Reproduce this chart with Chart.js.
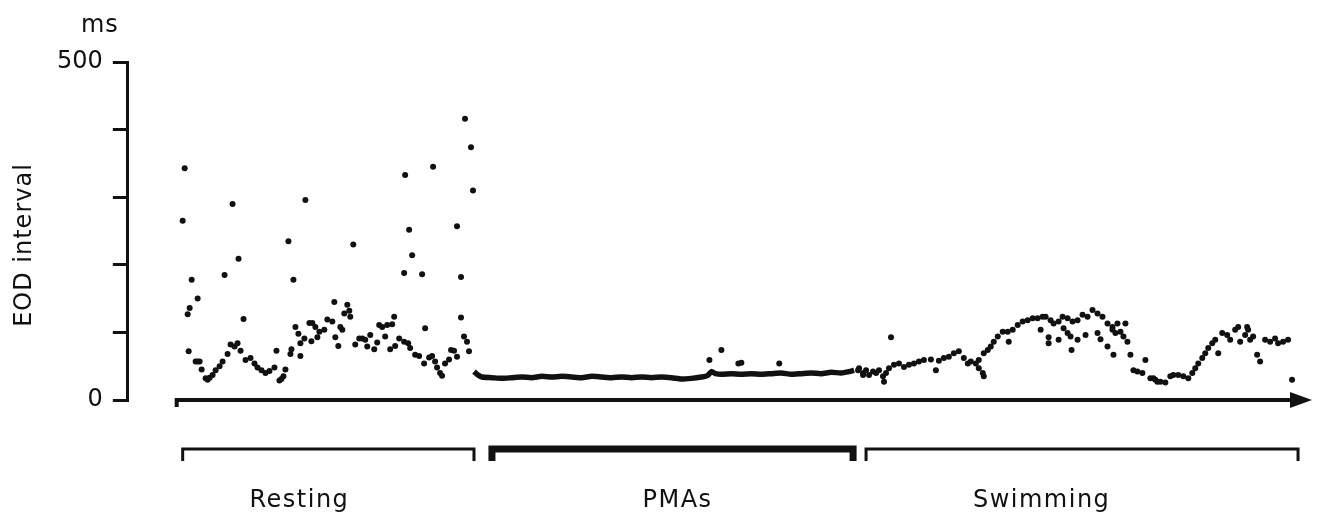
<!DOCTYPE html>
<html>
<head>
<meta charset="utf-8">
<script src="https://cdn.jsdelivr.net/npm/chart.js@4/dist/chart.umd.min.js"></script>
<style>
  html, body { margin: 0; padding: 0; background: #fff; }
  #chart { display: block; }
</style>
</head>
<body>
<canvas id="chart" width="1324" height="515"></canvas>
<script>
// --- DATA (time in arbitrary units along the record, EOD interval in ms) ---

const yTicks = [0, 100, 200, 300, 400, 500];
const yLabelled = [0, 500];
const yTitle = 'EOD interval';
const yUnit = 'ms';

const phaseNames = ['Resting', 'PMAs', 'Swimming'];
const phaseStart = [8, 318, 693];
const phaseEnd = [300, 680, 1126];
const phaseLabelAt = [125, 504, 869];
const phaseWeight = [3, 7, 3];

// resting: scattered intervals, many long ones
const restingPoints = [
    [10, 343], [8, 265], [17, 178], [13, 127], [15, 136], [23, 150], [14, 72],
    [58, 290], [50, 185], [64, 209], [69, 120], [131, 296], [114, 235], [119, 178],
    [160, 145], [179, 230], [231, 333], [259, 345], [235, 252], [238, 214], [230, 188],
    [248, 186], [283, 257], [287, 182], [287, 122], [291, 416], [297, 374], [299, 310],
    [251, 106],
    [21, 57], [23, 57], [25, 57], [27, 45], [31, 32], [33, 30], [35, 33], [38, 37],
    [41, 44], [45, 50], [48, 57], [53, 68], [56, 82], [60, 79], [63, 84], [66, 73],
    [71, 59], [76, 62], [80, 54], [83, 48], [87, 44], [91, 40], [95, 43], [100, 48],
    [102, 73], [111, 45], [109, 35], [105, 29], [107, 31], [116, 68], [117, 75],
    [121, 108], [124, 98], [126, 84], [126, 65], [130, 91], [135, 114], [138, 114],
    [137, 87], [141, 108], [145, 101], [150, 104], [153, 119], [143, 93], [173, 141],
    [175, 132], [158, 116], [170, 128], [176, 123], [166, 108], [168, 104], [161, 93],
    [164, 80], [181, 82], [185, 91], [188, 91], [191, 89], [193, 79], [196, 96],
    [200, 75], [203, 85], [205, 111], [208, 108], [213, 111], [218, 112], [220, 123],
    [211, 94], [216, 75], [221, 80], [225, 91], [230, 86], [234, 84], [236, 77],
    [241, 67], [245, 65], [250, 54], [255, 63], [258, 65], [261, 57], [263, 48],
    [266, 40], [268, 36], [271, 54], [275, 60], [277, 74], [280, 73], [283, 64],
    [290, 94], [293, 86], [295, 72]
];

// PMAs: steady short intervals, drawn as a continuous trace
const pmaTrace = [
    [300, 42], [304, 37], [308, 34], [318, 33], [328, 32], [338, 33], [348, 34],
    [358, 33], [368, 35], [378, 34], [388, 35], [398, 34], [408, 33], [418, 35],
    [428, 34], [438, 33], [448, 34], [458, 33], [468, 34], [478, 33], [488, 34],
    [498, 33], [508, 31], [518, 32], [528, 34], [534, 36], [538, 42], [542, 39],
    [548, 38], [558, 39], [568, 38], [578, 39], [588, 38], [598, 39], [608, 40],
    [618, 38], [628, 39], [638, 40], [648, 39], [658, 41], [668, 40], [676, 42], [681, 44]
];
const pmaPoints = [[536, 59], [548, 74], [565, 54], [568, 55], [606, 54], [685, 44], [690, 37]];

// swimming: slow modulation of the interval
const swimmingPoints = [
    [686, 47], [690, 40], [693, 44], [696, 37], [700, 42], [703, 40], [706, 44],
    [710, 35], [711, 27], [713, 40], [716, 47], [718, 93], [721, 52], [726, 54],
    [731, 49], [736, 52], [741, 54], [746, 57], [751, 59], [758, 60], [763, 44],
    [766, 58], [771, 62], [776, 64], [781, 69], [786, 72], [791, 62], [795, 54],
    [798, 57], [803, 54], [806, 47], [810, 40], [811, 35], [806, 59], [811, 69],
    [815, 74], [818, 79], [821, 86], [825, 94], [830, 101], [835, 101], [840, 104],
    [845, 111], [850, 116], [855, 118], [860, 121], [865, 121], [870, 123], [873, 123],
    [878, 118], [881, 113], [886, 116], [890, 123], [895, 121], [900, 116], [905, 118],
    [910, 126], [915, 123], [920, 133], [925, 128], [930, 123], [935, 113], [940, 108],
    [945, 113], [948, 101], [951, 94],
    [836, 86], [868, 104], [876, 93], [876, 84], [886, 89], [891, 106], [895, 99],
    [898, 94], [899, 74], [905, 89], [913, 96], [925, 99], [928, 90], [935, 79],
    [941, 67], [940, 104], [943, 99], [955, 86], [958, 67], [953, 113], [973, 59],
    [961, 44], [965, 42], [970, 40], [981, 32], [985, 27],
    [978, 32], [983, 30], [988, 27], [993, 26], [998, 35], [1001, 37], [1006, 37],
    [1011, 35], [1016, 32], [1020, 40], [1023, 47], [1026, 54], [1030, 62], [1033, 69],
    [1036, 77], [1040, 84], [1043, 89], [1046, 69], [1050, 99], [1055, 96], [1058, 89],
    [1063, 104], [1066, 108], [1068, 86], [1073, 96], [1076, 104], [1075, 108],
    [1078, 89], [1081, 94], [1085, 67], [1088, 57], [1093, 89], [1098, 86], [1103, 91],
    [1106, 84], [1111, 86], [1116, 89], [1120, 30]
];

// --- DRAWING ---

const INK = '#111';
const FONT = '"DejaVu Sans", "Noto Sans", sans-serif';

const toXY = (pts) => pts.map(([x, y]) => ({ x, y }));

const dotStyle = {
    type: 'scatter',
    backgroundColor: INK,
    borderWidth: 0,
    pointRadius: 3,
    pointHoverRadius: 3
};

// arrow axis, phase brackets and their labels, axis title and unit
const decorPlugin = {
    id: 'decor',
    afterDatasetsDraw(chart) {
        const { ctx, chartArea, scales } = chart;
        const xs = scales.x;
        const base = chartArea.bottom;
        const x0 = xs.getPixelForValue(0);
        const tip = xs.getPixelForValue(xs.max);

        ctx.save();
        ctx.strokeStyle = INK;
        ctx.fillStyle = INK;
        ctx.lineCap = 'butt';

        // time axis with arrow head
        ctx.lineWidth = 4;
        ctx.beginPath();
        ctx.moveTo(x0 + 2, base + 7);
        ctx.lineTo(x0 + 2, base);
        ctx.lineTo(tip - 16, base);
        ctx.stroke();
        ctx.beginPath();
        ctx.moveTo(tip, base);
        ctx.lineTo(tip - 22, base - 8);
        ctx.lineTo(tip - 22, base + 8);
        ctx.closePath();
        ctx.fill();

        // brackets
        const by = base + 49;
        phaseNames.forEach((name, i) => {
            const a = xs.getPixelForValue(phaseStart[i]);
            const b = xs.getPixelForValue(phaseEnd[i]);
            ctx.lineWidth = phaseWeight[i];
            ctx.beginPath();
            ctx.moveTo(a, by + 12);
            ctx.lineTo(a, by);
            ctx.lineTo(b, by);
            ctx.lineTo(b, by + 12);
            ctx.stroke();

            ctx.font = '24px ' + FONT;
            ctx.letterSpacing = '1.5px';
            ctx.textAlign = 'center';
            ctx.textBaseline = 'alphabetic';
            ctx.fillText(name, xs.getPixelForValue(phaseLabelAt[i]), base + 107);
        });

        // unit
        ctx.letterSpacing = '1px';
        ctx.font = '24px ' + FONT;
        ctx.textAlign = 'right';
        ctx.fillText(yUnit, chartArea.left - 9, chartArea.top - 30);

        // y title, rotated
        ctx.translate(chartArea.left - 103, chartArea.top + 183);
        ctx.rotate(-Math.PI / 2);
        ctx.letterSpacing = '1px';
        ctx.font = '24px ' + FONT;
        ctx.textAlign = 'center';
        ctx.textBaseline = 'middle';
        ctx.fillText(yTitle, 0, 0);
        ctx.restore();
    }
};

new Chart(document.getElementById('chart'), {
    type: 'scatter',
    data: {
        datasets: [
            {
                type: 'line',
                data: toXY(pmaTrace),
                borderColor: INK,
                borderWidth: 5.5,
                pointRadius: 0,
                tension: 0.2,
                fill: false
            },
            { ...dotStyle, data: toXY(restingPoints) },
            { ...dotStyle, data: toXY(pmaPoints) },
            { ...dotStyle, data: toXY(swimmingPoints) }
        ]
    },
    options: {
        responsive: false,
        animation: false,
        devicePixelRatio: 1,
        layout: { padding: { left: 47, top: 62, right: 12, bottom: 115 } },
        plugins: {
            legend: { display: false },
            tooltip: { enabled: false }
        },
        scales: {
            x: {
                type: 'linear',
                min: -47,
                max: 1140,
                display: false
            },
            y: {
                min: 0,
                max: 500,
                afterBuildTicks: (axis) => { axis.ticks = yTicks.map(v => ({ value: v })); },
                ticks: {
                    callback: (v) => yLabelled.includes(v) ? String(v) : '',
                    font: { family: FONT, size: 24 },
                    color: INK,
                    padding: 10
                },
                grid: {
                    drawOnChartArea: false,
                    drawTicks: true,
                    tickLength: 15,
                    lineWidth: 3,
                    color: INK
                },
                border: { display: true, width: 3, color: INK }
            }
        }
    },
    plugins: [decorPlugin]
});
</script>
</body>
</html>
